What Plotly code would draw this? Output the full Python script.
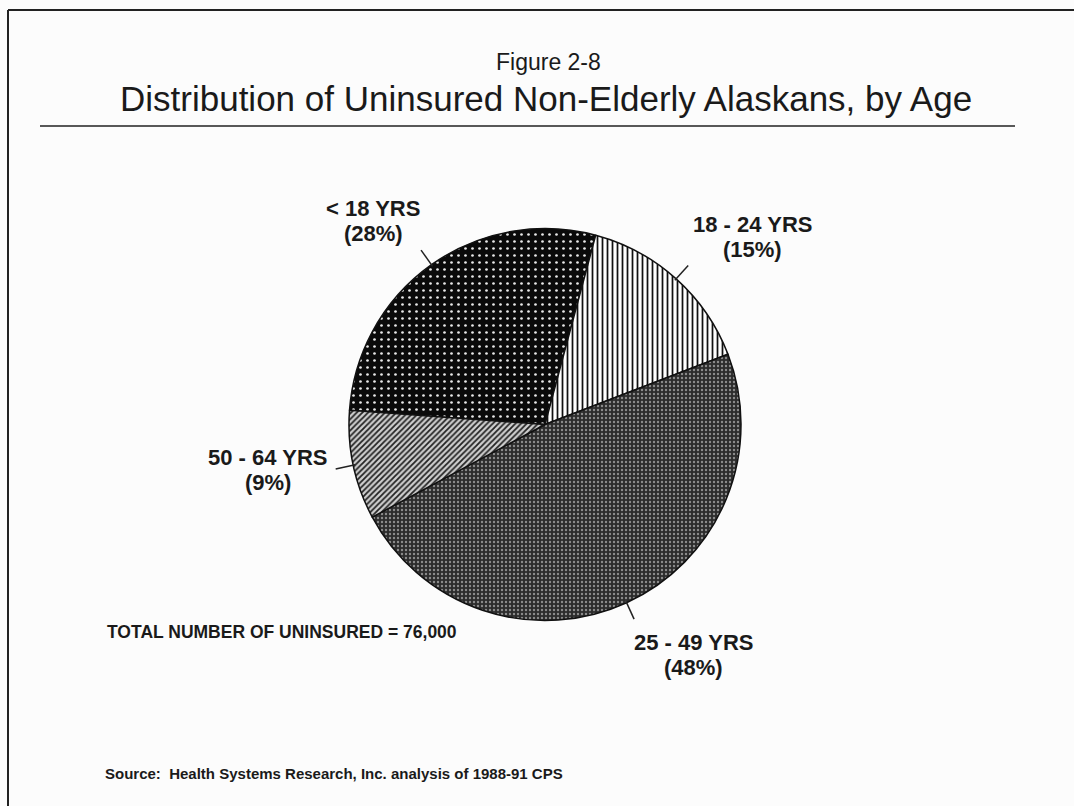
import math
import plotly.graph_objects as go

# ---- data ----
age_groups = ["< 18 YRS", "18 - 24 YRS", "25 - 49 YRS", "50 - 64 YRS"]
shares = [28, 15, 48, 9]
total_uninsured = "76,000"

# ---- layout helpers (pixels -> paper) ----
W, H = 1074, 806
def px(x):
    return x / W
def py(y):
    return 1 - y / H

CX, CY, R = 545, 424.5, 196
ROTATION = -85.8  # start of first slice, degrees clockwise from 12 o'clock

pattern_shapes = [".", "|", ".", "/"]
pattern_bg = ["#0a0a0a", "#ffffff", "#2c2c2c", "#cfcfcf"]
pattern_fg = ["#e8e8e8", "#111111", "#8c8c8c", "#222222"]
pattern_size = [7, 5, 4, 4]
pattern_solid = [0.12, 0.35, 0.28, 0.45]

fig = go.Figure(go.Pie(
    labels=age_groups,
    values=shares,
    sort=False,
    direction="clockwise",
    rotation=ROTATION,
    textinfo="none",
    hoverinfo="label+percent",
    showlegend=False,
    domain=dict(x=[px(CX - R), px(CX + R)], y=[py(CY + R), py(CY - R)]),
    marker=dict(
        colors=pattern_bg,
        line=dict(color="#111111", width=1.5),
        pattern=dict(shape=pattern_shapes, bgcolor=pattern_bg, fgcolor=pattern_fg,
                     size=pattern_size, solidity=pattern_solid, fillmode="replace"),
    ),
))

# leader lines computed from slice mid-angles
total = sum(shares)
start = ROTATION
shapes = []
for v in shares:
    span = 360 * v / total
    mid = math.radians(start + span / 2)
    x0 = CX + (R - 2) * math.sin(mid)
    y0 = CY - (R - 2) * math.cos(mid)
    x1 = CX + (R + 18) * math.sin(mid)
    y1 = CY - (R + 18) * math.cos(mid)
    shapes.append(dict(type="line", xref="paper", yref="paper",
                       x0=px(x0), y0=py(y0), x1=px(x1), y1=py(y1),
                       line=dict(color="#222222", width=1.5)))
    start += span

# frame and title rule
shapes.append(dict(type="line", xref="paper", yref="paper", x0=px(8), x1=px(1074), y0=py(10), y1=py(10),
                   line=dict(color="#222", width=2)))
shapes.append(dict(type="line", xref="paper", yref="paper", x0=px(8), x1=px(8), y0=py(10), y1=py(806),
                   line=dict(color="#222", width=2)))
shapes.append(dict(type="line", xref="paper", yref="paper", x0=px(40), x1=px(1015), y0=py(126), y1=py(126),
                   line=dict(color="#222", width=1.5)))

# label positions (pixel centres of the name line; percent line sits 25px below)
label_pos = [(373, 208.5), (752, 224.5), (693.5, 642.5), (267.5, 457.5)]
FONT = "Liberation Sans, Arial"
annotations = []
for lab, v, (lx, ly) in zip(age_groups, shares, label_pos):
    annotations.append(dict(x=px(lx), y=py(ly), xref="paper", yref="paper", showarrow=False,
                            xanchor="center", yanchor="middle",
                            text=f"<b>{lab}</b>",
                            font=dict(family=FONT, size=22, color="#1a1a1a")))
    annotations.append(dict(x=px(lx), y=py(ly + 25), xref="paper", yref="paper", showarrow=False,
                            xanchor="center", yanchor="middle",
                            text=f"<b>({v}%)</b>",
                            font=dict(family=FONT, size=22, color="#1a1a1a")))

annotations.append(dict(x=px(548), y=py(62), xref="paper", yref="paper", showarrow=False,
                        xanchor="center", yanchor="middle",
                        text="Figure 2-8", font=dict(family=FONT, size=23, color="#1a1a1a")))
annotations.append(dict(x=px(546), y=py(98), xref="paper", yref="paper", showarrow=False,
                        xanchor="center", yanchor="middle",
                        text="Distribution of Uninsured Non-Elderly Alaskans, by Age",
                        font=dict(family=FONT, size=35, color="#1a1a1a")))
annotations.append(dict(x=px(105), y=py(632), xref="paper", yref="paper", showarrow=False,
                        xanchor="left", yanchor="middle",
                        text=f"<b>TOTAL NUMBER OF UNINSURED = {total_uninsured}</b>",
                        font=dict(family=FONT, size=17.5, color="#1a1a1a")))
annotations.append(dict(x=px(103), y=py(773), xref="paper", yref="paper", showarrow=False,
                        xanchor="left", yanchor="middle",
                        text="<b>Source:  Health Systems Research, Inc. analysis of 1988-91 CPS</b>",
                        font=dict(family=FONT, size=15, color="#1a1a1a")))

fig.update_layout(
    width=W, height=H,
    margin=dict(l=0, r=0, t=0, b=0),
    paper_bgcolor="#fcfcfc",
    plot_bgcolor="#fcfcfc",
    shapes=shapes,
    annotations=annotations,
)

fig.write_html("out.html", config={"displayModeBar": False},
               post_script="document.body.style.margin='0';document.body.style.overflow='hidden';")
